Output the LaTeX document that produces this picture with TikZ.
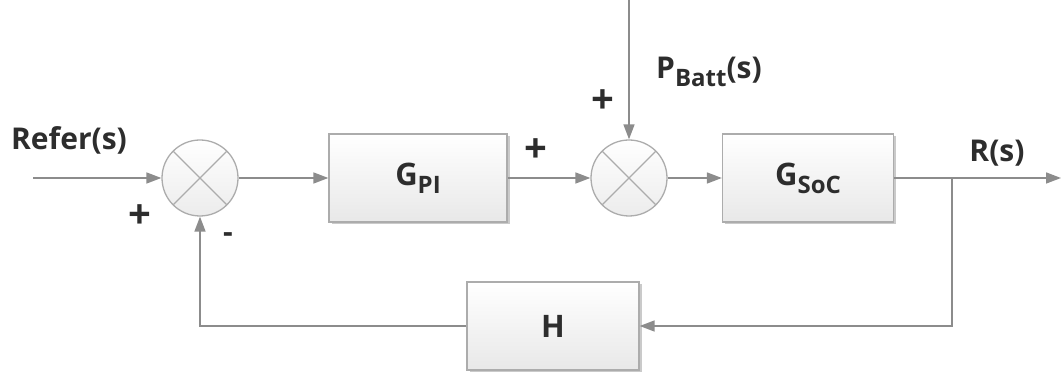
\documentclass[tikz,border=0pt]{standalone}
\usepackage{fontspec}
\setmainfont{Open Sans}
\usetikzlibrary{arrows.meta,shadows,positioning}
\definecolor{linegray}{RGB}{140,140,140}
\definecolor{textgray}{RGB}{45,45,45}
\tikzset{
  blockbox/.style={draw=gray!65, line width=1.3pt, top color=white, bottom color=gray!18,
    minimum width=176pt, minimum height=88pt, inner sep=0pt,
    drop shadow={shadow xshift=2.5pt, shadow yshift=-2.5pt, fill=gray!70, opacity=0.6},
    font=\fontsize{31}{34}\selectfont\bfseries, text=textgray},
  sumnode/.style={circle, draw=gray!65, line width=1.3pt, top color=white, bottom color=gray!15,
    minimum size=76pt, inner sep=0pt,
    path picture={\draw[gray!65, line width=1.3pt]
      (path picture bounding box.north west) -- (path picture bounding box.south east)
      (path picture bounding box.north east) -- (path picture bounding box.south west);}},
  signal/.style={draw=linegray, line width=1.6pt, -{Triangle[length=15pt,width=11pt]}},
  lbl/.style={font=\fontsize{30}{34}\selectfont\bfseries, text=textgray, inner sep=0pt},
  signlbl/.style={lbl, font=\fontsize{40}{40}\selectfont\bfseries}
}
\newcommand{\lowtxt}[1]{\raisebox{-8pt}{\fontsize{24}{26}\selectfont #1}}

\begin{document}
\begin{tikzpicture}[x=1pt,y=1pt]
    \useasboundingbox (0,0) rectangle (1062,379);
    % Blocks
    \node[sumnode] (sumA) at (200,201) {};
    \node[blockbox, minimum width=178pt] (gpi) at (418,201) {G\lowtxt{PI}};
    \node[sumnode] (sumB) at (629,201) {};
    \node[blockbox, minimum width=171pt] (gsoc) at (808,201) {G\lowtxt{SoC}};
    \node[blockbox, minimum width=172pt] (hblk) at (553,53) {H};
    % Free ends
    \coordinate (refin) at (33,201);
    \coordinate (rout) at (1061,201);
    \coordinate (battin) at (629,379);
    \coordinate (branch) at (952,201);
    % Signals
    \draw[signal] (refin) -- (sumA);
    \draw[signal] (sumA) -- (gpi);
    \draw[signal] (gpi) -- (sumB);
    \draw[signal] (battin) -- (sumB);
    \draw[signal] (sumB) -- (gsoc);
    \draw[signal] (gsoc) -- (rout);
    \draw[signal] (branch) |- (hblk);
    \draw[signal] (hblk) -| (sumA);
    % Labels
    \node[lbl] (lrefer) at (69,239) {Refer(s)};
    \node[signlbl] (plusA) at (140,162) {+};
    \node[lbl] (minusA) at (228,141) {-};
    \node[signlbl] (plusB) at (536,228) {+};
    \node[signlbl] (plusC) at (603,277) {+};
    \node[lbl, anchor=west] (lbatt) at (656,307) {P\lowtxt{Batt}(s)};
    \node[lbl] (lrout) at (997,226) {R(s)};
\end{tikzpicture}
\end{document}
